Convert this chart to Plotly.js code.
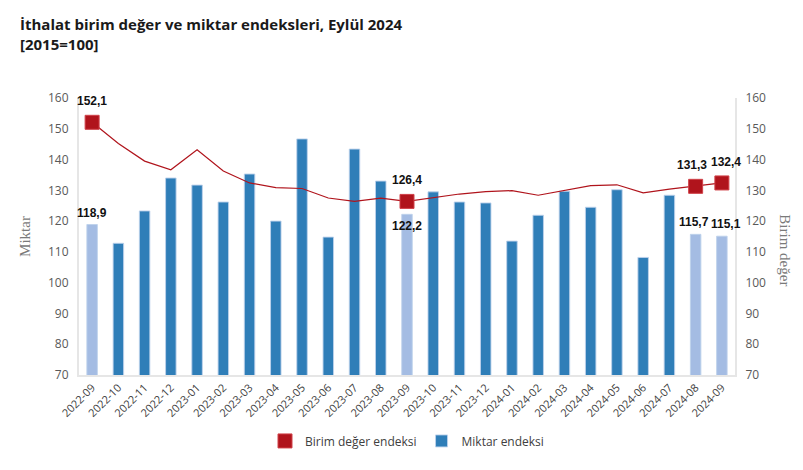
<!DOCTYPE html>
<html><head><meta charset="utf-8">
<script src="https://cdn.plot.ly/plotly-3.0.1.min.js"></script>
<style>html,body{margin:0;padding:0;background:#fff;}#chart{width:803px;height:470px;}</style>
</head><body><div id="chart"></div>
<script>
const categories = ["2022-09","2022-10","2022-11","2022-12","2023-01","2023-02","2023-03","2023-04","2023-05","2023-06","2023-07","2023-08","2023-09","2023-10","2023-11","2023-12","2024-01","2024-02","2024-03","2024-04","2024-05","2024-06","2024-07","2024-08","2024-09"];
const miktar = [118.9,112.8,123.3,134.0,131.7,126.2,135.3,120.0,146.7,114.8,143.4,133.0,122.2,129.5,126.2,125.9,113.5,121.9,129.7,124.5,130.2,108.2,128.4,115.7,115.1];
const birimDeger = [152.1,145.2,139.5,136.7,143.2,136.3,132.4,130.9,130.6,127.5,126.4,127.5,126.4,127.6,128.8,129.6,129.9,128.4,129.9,131.5,131.8,129.2,130.4,131.3,132.4];
const highlighted = ["2022-09","2023-09","2024-08","2024-09"];

const darkBlue = "#2F7EB8", lightBlue = "#A4BCE3", red = "#B0141C";
const isHi = c => highlighted.includes(c);
const fmt = v => v.toFixed(1).replace(".", ",");

const mDark = categories.map((c,i) => isHi(c) ? null : miktar[i]);
const mLight = categories.map((c,i) => isHi(c) ? miktar[i] : null);
const hiCats = categories.filter(isHi);
const hiBirim = hiCats.map(c => birimDeger[categories.indexOf(c)]);

const barLine = {color:"rgba(190,210,235,0.9)", width:1};
const traces = [
  {type:"scatter", mode:"lines", x:categories, y:birimDeger, line:{color:red, width:1.2}, showlegend:false, hoverinfo:"skip", yaxis:"y2"},
  {type:"scatter", mode:"markers", x:hiCats, y:hiBirim, name:"Birim değer endeksi", legendrank:1, marker:{symbol:"square", size:14, color:red, line:{color:"#d04048", width:1}}, hoverinfo:"skip", yaxis:"y2"},
  {type:"bar", x:categories, y:mDark, name:"Miktar endeksi", legendrank:2, marker:{color:darkBlue, line:barLine}, width:0.4, hoverinfo:"skip", yaxis:"y"},
  {type:"bar", x:categories, y:mLight, name:"Miktar (seçili)", showlegend:false, marker:{color:lightBlue, line:barLine}, width:0.4, hoverinfo:"skip", yaxis:"y"}
];
// draw bars below the line
traces.push(traces.shift()); traces.push(traces.shift());

const labelFont = {family:"Liberation Sans, Arial, sans-serif", size:12, color:"#111"};
const annotations = [];
categories.forEach((c,i) => {
  if (!isHi(c)) return;
  const below = c === "2023-09";
  annotations.push({x:c, y:miktar[i], xref:"x", yref:"y", text:"<b>"+fmt(miktar[i])+"</b>", showarrow:false, font:labelFont, yanchor: below ? "top" : "bottom", yshift: below ? -3 : 3, xshift: c==="2024-09" ? 4 : (c==="2024-08" ? -2 : 0)});
  const by = birimDeger[i];
  annotations.push({x:c, y:by, xref:"x", yref:"y2", text:"<b>"+fmt(by)+"</b>", showarrow:false, font:labelFont, yanchor:"bottom", yshift:12, xshift: c==="2024-08" ? -4 : (c==="2024-09" ? 4 : 0)});
});
annotations.push({text:"Birim değer", xref:"paper", yref:"paper", x:1.0, xshift:50, xanchor:"center", y:0.45, textangle:90, showarrow:false, font:{family:"Liberation Serif, Times New Roman, serif", size:15, color:"#7a7a7a"}});
annotations.push({text:"<b>İthalat birim değer ve miktar endeksleri, Eylül 2024<br>[2015=100]</b>", xref:"paper", yref:"paper", x:0, xshift:-61, xanchor:"left", y:1, yshift:86, yanchor:"top", align:"left", showarrow:false, font:{family:"Open Sans, sans-serif", size:15, color:"#1a1a1a"}});

const axisCommon = {range:[70,160], dtick:10, showgrid:false, zeroline:false, showline:true, linecolor:"#e6e6e6", linewidth:2, tickfont:{family:"Open Sans, sans-serif", size:12, color:"#595959"}, ticks:"", ticklabelstandoff:6, fixedrange:true, automargin:false};

const layout = {
  width:803, height:470,
  margin:{l:79, r:68, t:98, b:95},
  paper_bgcolor:"#fff", plot_bgcolor:"#fff",
  barmode:"overlay",
  xaxis:{type:"category", tickangle:-45, showgrid:false, showline:true, linecolor:"#e6e6e6", linewidth:2, tickfont:{family:"Open Sans, sans-serif", size:11, color:"#404040"}, ticks:"", range:[-0.5,24.5], automargin:false},
  yaxis:Object.assign({}, axisCommon, {title:{text:"Miktar", font:{family:"Liberation Serif, Times New Roman, serif", size:15, color:"#7a7a7a"}, standoff:14}}),
  yaxis2:Object.assign({}, axisCommon, {overlaying:"y", side:"right"}),
  showlegend:true,
  legend:{orientation:"h", x:0.5, xanchor:"center", y:-0.238, yanchor:"middle", font:{family:"Open Sans, sans-serif", size:12, color:"#404040"}},
  annotations:annotations
};

Plotly.newPlot("chart", traces, layout, {displayModeBar:false, staticPlot:true});
</script></body></html>
